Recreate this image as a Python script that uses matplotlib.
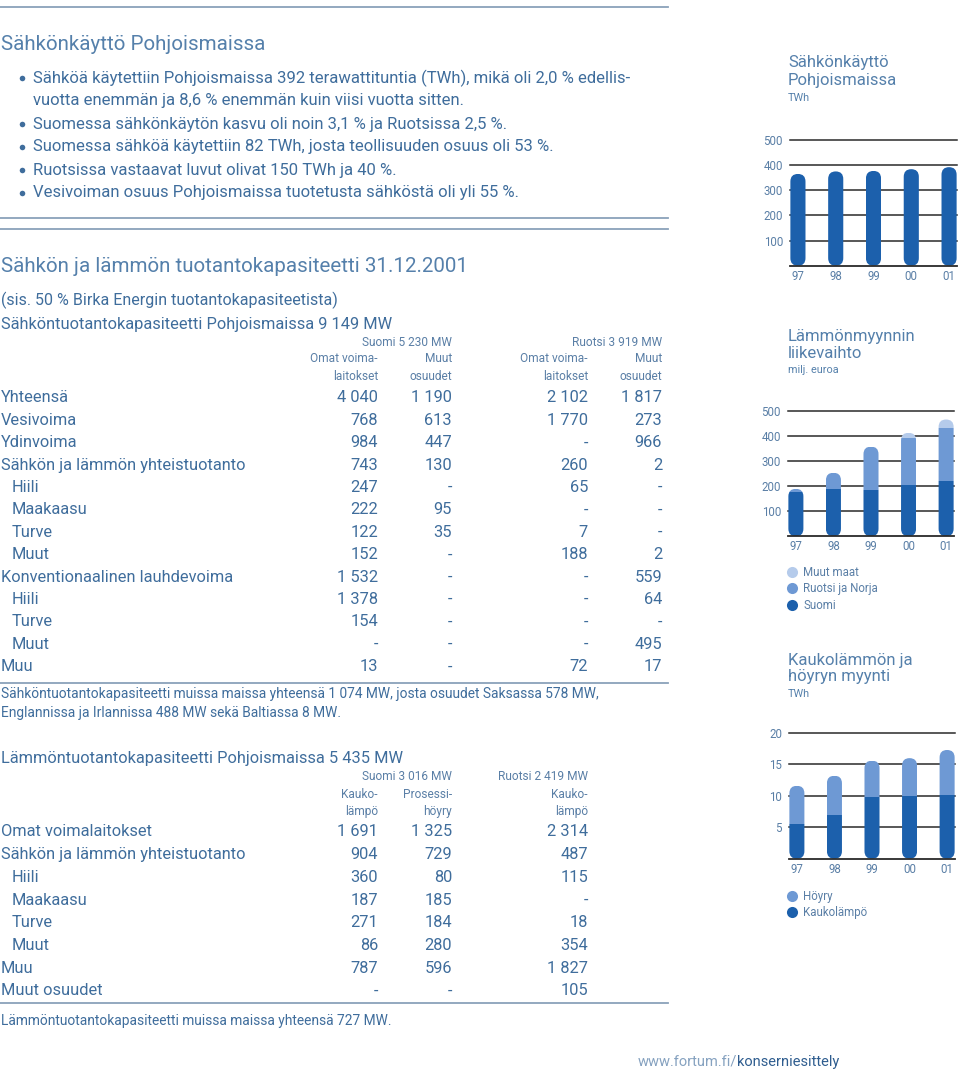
import matplotlib
matplotlib.use("Agg")
import matplotlib.pyplot as plt
from matplotlib.patches import FancyBboxPatch
from matplotlib.lines import Line2D

plt.rcParams['font.family'] = ['Roboto', 'DejaVu Sans']

## ------------------------------------------------------------------
## Data

years = ["97", "98", "99", "00", "01"]

# Sähkönkäyttö Pohjoismaissa, TWh
consumption = [365, 375, 377, 384, 392]

# Lämmönmyynnin liikevaihto, milj. euroa
heat_suomi = [175, 188, 183, 205, 219]
heat_ruotsi = [14, 65, 174, 187, 212]
heat_muut = [0, 0, 0, 20, 34]

# Kaukolämmön ja höyryn myynti, TWh
kaukolampo = [5.6, 6.9, 9.8, 10.0, 10.2]
hoyry = [6.0, 6.3, 5.8, 6.0, 7.1]

bullets = [
    "Sähköä käytettiin Pohjoismaissa 392 terawattituntia (TWh), mikä oli 2,0 % edellis-\nvuotta enemmän ja 8,6 % enemmän kuin viisi vuotta sitten.",
    "Suomessa sähkönkäytön kasvu oli noin 3,1 % ja Ruotsissa 2,5 %.",
    "Suomessa sähköä käytettiin 82 TWh, josta teollisuuden osuus oli 53 %.",
    "Ruotsissa vastaavat luvut olivat 150 TWh ja 40 %.",
    "Vesivoiman osuus Pohjoismaissa tuotetusta sähköstä oli yli 55 %.",
]

# Sähköntuotantokapasiteetti (label, indented, Suomi omat, Suomi muut, Ruotsi omat, Ruotsi muut)
power_rows = [
    ("Yhteensä", False, "4 040", "1 190", "2 102", "1 817"),
    ("Vesivoima", False, "768", "613", "1 770", "273"),
    ("Ydinvoima", False, "984", "447", "-", "966"),
    ("Sähkön ja lämmön yhteistuotanto", False, "743", "130", "260", "2"),
    ("Hiili", True, "247", "-", "65", "-"),
    ("Maakaasu", True, "222", "95", "-", "-"),
    ("Turve", True, "122", "35", "7", "-"),
    ("Muut", True, "152", "-", "188", "2"),
    ("Konventionaalinen lauhdevoima", False, "1 532", "-", "-", "559"),
    ("Hiili", True, "1 378", "-", "-", "64"),
    ("Turve", True, "154", "-", "-", "-"),
    ("Muut", True, "-", "-", "-", "495"),
    ("Muu", False, "13", "-", "72", "17"),
]

# Lämmöntuotantokapasiteetti (label, indented, Suomi kaukolämpö, Suomi prosessihöyry, Ruotsi kaukolämpö)
heat_rows = [
    ("Omat voimalaitokset", False, "1 691", "1 325", "2 314"),
    ("Sähkön ja lämmön yhteistuotanto", False, "904", "729", "487"),
    ("Hiili", True, "360", "80", "115"),
    ("Maakaasu", True, "187", "185", "-"),
    ("Turve", True, "271", "184", "18"),
    ("Muut", True, "86", "280", "354"),
    ("Muu", False, "787", "596", "1 827"),
    ("Muut osuudet", False, "-", "-", "105"),
]

## ------------------------------------------------------------------
## Styles

TXT = '#3f6d9c'
SMALL = '#5a7fa6'
TITLE = '#5580ab'
RULE = '#8aa1ba'
DARK = '#1c60ac'
MID = '#6e99d4'
LIGHT = '#b5cbeb'
GRID = '#2a2a2a'

W, H = 960, 1076
fig = plt.figure(figsize=(W / 100, H / 100), dpi=100)
bg = fig.add_axes([0, 0, 1, 1])
bg.set_xlim(0, W)
bg.set_ylim(H, 0)
bg.axis('off')


def txt(x, y, s, size=11.8, color=TXT, ha='left', **kw):
    return bg.text(x, y, s, fontsize=size, color=color, ha=ha, va='center', **kw)


def rule(y, x0=0, x1=668):
    bg.plot([x0, x1], [y, y], color=RULE, lw=1.3)


## ------------------------------------------------------------------
## Left column text

rule(7)
txt(1, 44, "Sähkönkäyttö Pohjoismaissa", size=14.8, color=TITLE)
by = 78
for b in bullets:
    lines = b.split("\n")
    bg.plot(22, by, 'o', ms=4, color=TXT, mec='none')
    for ln in lines:
        txt(33, by, ln, size=12)
        by += 23
rule(218)
rule(229)

txt(1, 267, "Sähkön ja lämmön tuotantokapasiteetti 31.12.2001", size=14.8, color=TITLE)
txt(1, 300, "(sis. 50 % Birka Energin tuotantokapasiteetista)", size=11.5)
txt(1, 324, "Sähköntuotantokapasiteetti Pohjoismaissa 9 149 MW", size=11.8)

cols = [378, 452, 588, 662]
txt(452, 343, "Suomi 5 230 MW", size=8.6, color=SMALL, ha='right')
txt(662, 343, "Ruotsi 3 919 MW", size=8.6, color=SMALL, ha='right')
for c, s in zip(cols, ["Omat voima-", "Muut", "Omat voima-", "Muut"]):
    txt(c, 359, s, size=8.6, color=SMALL, ha='right')
for c, s in zip(cols, ["laitokset", "osuudet", "laitokset", "osuudet"]):
    txt(c, 377, s, size=8.6, color=SMALL, ha='right')

ry = 398
for row in power_rows:
    txt(12 if row[1] else 1, ry, row[0])
    for c, v in zip(cols, row[2:]):
        txt(c, ry, v, ha='right')
    ry += 22.4
rule(683)
txt(1, 694, "Sähköntuotantokapasiteetti muissa maissa yhteensä 1 074 MW, josta osuudet Saksassa 578 MW,", size=9.9)
txt(1, 713, "Englannissa ja Irlannissa 488 MW sekä Baltiassa 8 MW.", size=9.9)

txt(1, 759, "Lämmöntuotantokapasiteetti Pohjoismaissa 5 435 MW", size=11.8)
hcols = [378, 452, 588]
txt(452, 776, "Suomi 3 016 MW", size=8.6, color=SMALL, ha='right')
txt(588, 776, "Ruotsi 2 419 MW", size=8.6, color=SMALL, ha='right')
for c, s in zip(hcols, ["Kauko-", "Prosessi-", "Kauko-"]):
    txt(c, 794, s, size=8.6, color=SMALL, ha='right')
for c, s in zip(hcols, ["lämpö", "höyry", "lämpö"]):
    txt(c, 811, s, size=8.6, color=SMALL, ha='right')

ry = 832
for row in heat_rows:
    txt(12 if row[1] else 1, ry, row[0])
    for c, v in zip(hcols, row[2:]):
        txt(c, ry, v, ha='right')
    ry += 22.7
rule(1003)
txt(1, 1021, "Lämmöntuotantokapasiteetti muissa maissa yhteensä 727 MW.", size=9.9)

t1 = txt(638, 1062, "www.fortum.fi/", size=10.5, color='#86a2c0')
bg.annotate("konserniesittely", xy=(1, 0.5), xycoords=t1, va='center', ha='left',
            fontsize=10.5, color='#2f5d8f')


## ------------------------------------------------------------------
## Right column charts

def chart_axes(left, right, y_zero, y_top):
    ax = fig.add_axes([left / W, 1 - y_zero / H, (right - left) / W, (y_zero - y_top) / H])
    return ax


def pill_bars(ax, series, colors, ymax, width=0.4):
    ax.set_xlim(-0.21, 4.21)
    ax.set_ylim(0, ymax)
    bb = ax.get_position()
    w_px = bb.width * W
    h_px = bb.height * H
    aspect = (ymax / h_px) / (4.42 / w_px)
    for i in range(len(years)):
        total = sum(s[i] for s in series)
        pill = FancyBboxPatch((i - width / 2, 0), width, total,
                              boxstyle="round,pad=0,rounding_size=%f" % (width / 2),
                              mutation_aspect=aspect, facecolor='none', edgecolor='none')
        ax.add_patch(pill)
        bottom = 0
        for s, c in zip(series, colors):
            if s[i] > 0:
                bars = ax.bar(i, s[i], width=width + 0.02, bottom=bottom, color=c, zorder=3)
                for b in bars:
                    b.set_clip_path(pill)
            bottom += s[i]


def style(ax, ticks):
    ax.set_yticks(ticks)
    ax.set_xticks(range(len(years)))
    ax.set_xticklabels(years)
    ax.grid(axis='y', color=GRID, lw=1.1)
    ax.set_axisbelow(True)
    for sp in ['top', 'right', 'left']:
        ax.spines[sp].set_visible(False)
    ax.spines['bottom'].set_color(GRID)
    ax.spines['bottom'].set_linewidth(1.3)
    ax.spines['bottom'].set_zorder(4)
    ax.tick_params(axis='both', length=0, labelsize=8.3, labelcolor=SMALL)
    ax.tick_params(axis='y', pad=5)
    ax.tick_params(axis='x', pad=3)
    for gl in ax.get_ygridlines():
        gl.set_clip_on(False)
    ax.patch.set_alpha(0)


# Chart 1
txt(788, 63, "Sähkönkäyttö", size=12, color=TITLE)
txt(788, 80, "Pohjoismaissa", size=12, color=TITLE)
txt(788, 98, "TWh", size=7.8, color=TITLE)
ax1 = chart_axes(790, 957, 265.7, 140)
pill_bars(ax1, [consumption], [DARK], 500)
style(ax1, [100, 200, 300, 400, 500])

# Chart 2
txt(788, 336, "Lämmönmyynnin", size=12, color=TITLE)
txt(788, 353, "liikevaihto", size=12, color=TITLE)
txt(788, 370, "milj. euroa", size=7.8, color=TITLE)
ax2 = chart_axes(788, 954, 536.3, 410.7)
pill_bars(ax2, [heat_suomi, heat_ruotsi, heat_muut], [DARK, MID, LIGHT], 500)
style(ax2, [100, 200, 300, 400, 500])
h2 = [Line2D([], [], ls='none', marker='o', ms=8, color=c, mec='none')
      for c in [LIGHT, MID, DARK]]
fig.legend(h2, ["Muut maat", "Ruotsi ja Norja", "Suomi"], loc='upper left',
           bbox_to_anchor=(786 / W, 1 - 566 / H), frameon=False, fontsize=8.3,
           labelcolor=SMALL, handlelength=1, handletextpad=0.5, labelspacing=0.3,
           borderpad=0, borderaxespad=0)

# Chart 3
txt(788, 660, "Kaukolämmön ja", size=12, color=TITLE)
txt(788, 677, "höyryn myynti", size=12, color=TITLE)
txt(788, 694, "TWh", size=7.8, color=TITLE)
ax3 = chart_axes(789, 955, 858.7, 733)
pill_bars(ax3, [kaukolampo, hoyry], [DARK, MID], 20)
style(ax3, [5, 10, 15, 20])
h3 = [Line2D([], [], ls='none', marker='o', ms=8, color=c, mec='none')
      for c in [MID, DARK]]
fig.legend(h3, ["Höyry", "Kaukolämpö"], loc='upper left',
           bbox_to_anchor=(786 / W, 1 - 890 / H), frameon=False, fontsize=8.3,
           labelcolor=SMALL, handlelength=1, handletextpad=0.5, labelspacing=0.3,
           borderpad=0, borderaxespad=0)

fig.savefig("out.png", dpi=100)
